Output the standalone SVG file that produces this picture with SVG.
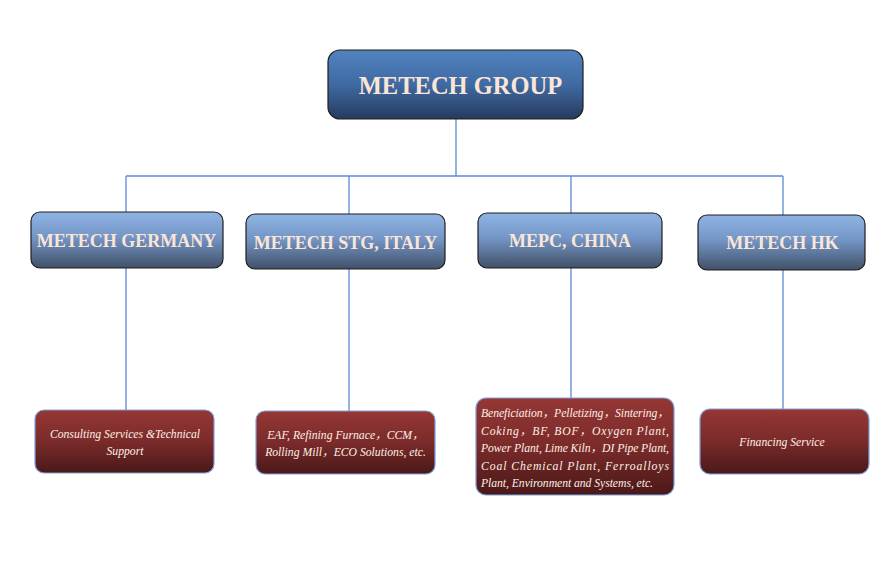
<svg xmlns="http://www.w3.org/2000/svg" width="893" height="578" viewBox="0 0 893 578">
<defs>
<linearGradient id="gTop" x1="0" y1="0" x2="0" y2="1">
<stop offset="0" stop-color="#5283c0"/><stop offset="0.5" stop-color="#3f6aa3"/><stop offset="1" stop-color="#263a5e"/>
</linearGradient>
<linearGradient id="gMid" x1="0" y1="0" x2="0" y2="1">
<stop offset="0" stop-color="#8fb4e3"/><stop offset="0.45" stop-color="#7496c6"/><stop offset="1" stop-color="#415068"/>
</linearGradient>
<linearGradient id="gRed" x1="0" y1="0" x2="0" y2="1">
<stop offset="0" stop-color="#953735"/><stop offset="0.5" stop-color="#7a2b2a"/><stop offset="1" stop-color="#4a1818"/>
</linearGradient>
<style>
.top{fill:url(#gTop);stroke:#1f1f1f;stroke-width:1.2}
.mid{fill:url(#gMid);stroke:#1f1f1f;stroke-width:1.2}
.leaf{fill:url(#gRed);stroke:#7f9fdc;stroke-width:1.2}
.t1{font-family:"Liberation Serif","Times New Roman",serif;font-weight:bold;font-size:24.5px;fill:#fbe5d6;text-anchor:middle}
.t2{font-family:"Liberation Serif","Times New Roman",serif;font-weight:bold;font-size:18px;fill:#fbe5d6;text-anchor:middle}
.t3{font-family:"Liberation Serif","Times New Roman","Noto Sans CJK SC",serif;font-style:italic;font-size:11.7px;fill:#fdf0e6}
.c{text-anchor:middle}
.conn{stroke:#5b8ad6;stroke-width:1.3;fill:none}
</style>
</defs>
<g id="connectors">
<path class="conn" d="M456 119V176M126 176H783M126 176V212M349 176V214M571 176V213M783 176V215"/>
<path class="conn" d="M126 268V410M349 269V411M571 268V398M783 270V409"/>
</g>
<g id="metech-group">
<rect class="top" x="328" y="50" width="255" height="69" rx="12"/>
<text class="t1" x="460.5" y="94">METECH GROUP</text>
</g>
<g id="metech-germany">
<rect class="mid" x="31" y="212" width="192" height="56" rx="9"/>
<text class="t2" x="126.5" y="247">METECH GERMANY</text>
</g>
<g id="metech-stg-italy">
<rect class="mid" x="246" y="214" width="199" height="55" rx="9"/>
<text class="t2" x="345.5" y="249">METECH STG, ITALY</text>
</g>
<g id="mepc-china">
<rect class="mid" x="478" y="213" width="184" height="55" rx="9"/>
<text class="t2" x="570" y="247">MEPC, CHINA</text>
</g>
<g id="metech-hk">
<rect class="mid" x="698" y="215" width="167" height="55" rx="9"/>
<text class="t2" x="782.5" y="249">METECH HK</text>
</g>
<g id="germany-services">
<rect class="leaf" x="35" y="410" width="179" height="63" rx="9"/>
<text class="t3 c" x="125" y="438">Consulting Services &amp;Technical</text>
<text class="t3 c" x="125" y="455">Support</text>
</g>
<g id="italy-services">
<rect class="leaf" x="256" y="411" width="179" height="63" rx="9"/>
<text class="t3 c" x="345.5" y="439">EAF, Refining Furnace，CCM，</text>
<text class="t3 c" x="345.5" y="456">Rolling Mill，ECO Solutions, etc.</text>
</g>
<g id="china-services">
<rect class="leaf" x="476" y="398" width="198" height="97" rx="10"/>
<text class="t3" x="481" y="417" textLength="188" lengthAdjust="spacing">Beneficiation，Pelletizing，Sintering，</text>
<text class="t3" x="481" y="435" textLength="188" lengthAdjust="spacing">Coking，BF, BOF，Oxygen Plant,</text>
<text class="t3" x="481" y="452" textLength="188" lengthAdjust="spacing">Power Plant, Lime Kiln，DI Pipe Plant,</text>
<text class="t3" x="481" y="470" textLength="188" lengthAdjust="spacing">Coal Chemical Plant, Ferroalloys</text>
<text class="t3" x="481" y="487" textLength="172" lengthAdjust="spacing">Plant, Environment and Systems, etc.</text>
</g>
<g id="hk-services">
<rect class="leaf" x="700" y="409" width="169" height="65" rx="10"/>
<text class="t3 c" x="782" y="446">Financing Service</text>
</g>
</svg>
